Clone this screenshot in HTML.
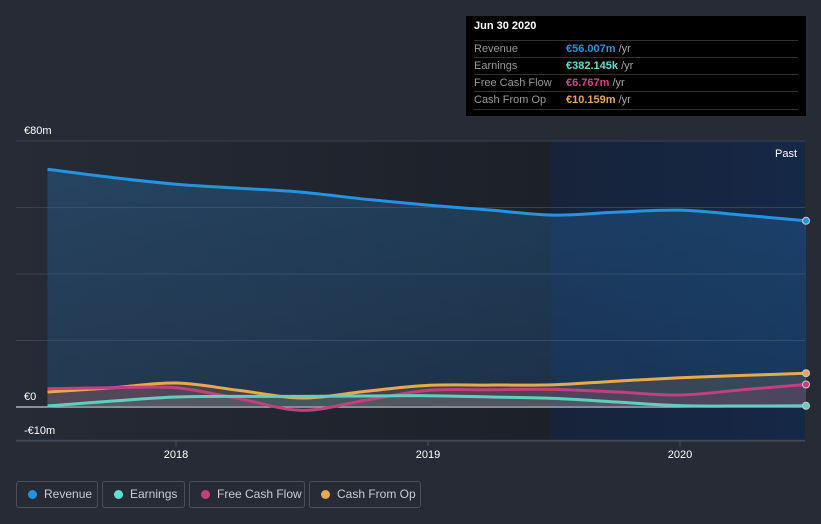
<!DOCTYPE html>
<html><head><meta charset="utf-8"><style>
body{margin:0;background:#262b36;width:821px;height:524px;overflow:hidden;font-family:"Liberation Sans",sans-serif}
.lg{position:absolute;top:481px;height:25px;border:1px solid #4a505c;border-radius:3px;color:#c9ccd2;font-size:12px;line-height:25px;box-sizing:content-box}
.lg i{position:absolute;left:11px;top:8px;width:9px;height:9px;border-radius:50%}
.lg span{position:absolute;left:27px}
.tt{position:absolute;left:466px;top:16px;width:340px;height:100px;background:#000}
.tt div{position:absolute;left:8px;width:324px;font-size:11px;color:#999;border-top:1px solid #333;height:17px;line-height:17px}
.tt b{position:absolute;left:92px;font-weight:bold}
.tt em{font-style:normal;color:#aaa;font-weight:normal}
</style></head><body>
<svg id="c" width="821" height="524" style="position:absolute;left:0;top:0">
<defs>
<linearGradient id="pastL" x1="0" x2="1"><stop offset="0" stop-color="#262b36"/><stop offset="1" stop-color="#1c2029"/></linearGradient>
<linearGradient id="pastR" x1="0" x2="1"><stop offset="0" stop-color="#17233a"/><stop offset="1" stop-color="#152846"/></linearGradient>
<linearGradient id="revF" x1="0" x2="0" y1="0" y2="1"><stop offset="0" stop-color="#2a7fc7" stop-opacity="0.3"/><stop offset="1" stop-color="#1f5d96" stop-opacity="0.28"/></linearGradient>
</defs>
<rect x="16" y="141" width="535" height="300" fill="url(#pastL)"/>
<rect x="551" y="141" width="254" height="300" fill="url(#pastR)"/>
<g id="grid"></g><g id="areas"></g><g id="lines"></g><g id="dots"></g><g id="labels"></g>
</svg>
<div class="tt">
<div style="top:2px;border:none;color:#fff;font-weight:bold;font-size:11px">Jun 30 2020</div>
<div style="top:24px">Revenue<b style="color:#2394df">€56.007m <em>/yr</em></b></div>
<div style="top:41px">Earnings<b style="color:#5fe0cf">€382.145k <em>/yr</em></b></div>
<div style="top:58px">Free Cash Flow<b style="color:#d6468a">€6.767m <em>/yr</em></b></div>
<div style="top:75px;border-bottom:1px solid #333">Cash From Op<b style="color:#e8a94e">€10.159m <em>/yr</em></b></div>
</div>
<div class="lg" style="left:16px;width:80px"><i style="background:#2394df"></i><span>Revenue</span></div>
<div class="lg" style="left:102px;width:81px"><i style="background:#5fe0cf"></i><span>Earnings</span></div>
<div class="lg" style="left:189px;width:114px"><i style="background:#c2407f"></i><span>Free Cash Flow</span></div>
<div class="lg" style="left:309px;width:110px"><i style="background:#e8a94e"></i><span>Cash From Op</span></div>
<script>
const dates=[2017.49,2017.75,2018,2018.25,2018.5,2018.75,2019,2019.25,2019.5,2019.75,2020,2020.25,2020.5];
const revenue=[71.5,69,67,65.8,64.6,62.5,60.7,59.2,57.7,58.6,59.2,57.7,56.0];
const earnings=[0.3,1.8,3,3.2,3.2,3.3,3.4,3.0,2.6,1.5,0.4,0.3,0.38];
const fcf=[5.5,5.8,5.8,2.5,-1,2,5,5.2,5.3,4.5,3.6,5.2,6.77];
const cfo=[4.5,5.8,7.2,5,2.7,4.7,6.5,6.6,6.7,7.8,8.8,9.5,10.16];
const yTicks=[80,60,40,20,0,-10];
const xTicks=[2018,2019,2020];
const xTickLabels=["2018","2019","2020"];
const NS="http://www.w3.org/2000/svg";
const X=v=>176+(v-2018)*252;
const Y=v=>407-v*(266/80);
function mk(t,a,p){const e=document.createElementNS(NS,t);for(const k in a)e.setAttribute(k,a[k]);document.getElementById(p).appendChild(e);return e;}
yTicks.forEach(t=>{
 const g=mk('line',{x1:16,x2:805,y1:Y(t),y2:Y(t),stroke:t===0?'#c8ccd2':'#3a4250','stroke-width':t===0?1.2:1},'grid');
 
 
});
mk('line',{x1:16,x2:805,y1:441,y2:441,stroke:'#4a505c'},'grid');
[[80,"€80m",130],[0,"€0",396],[-10,"-€10m",430]].forEach(([v,s,yy])=>{
 const t=mk('text',{x:24,y:yy+4,fill:'#fff','font-size':11},'labels');t.textContent=s;
 
 
});
xTicks.forEach((v,i)=>{
 mk('line',{x1:X(v),x2:X(v),y1:441,y2:446,stroke:'#4a505c'},'grid');
 const t=mk('text',{x:X(v),y:458,fill:'#fff','font-size':11,'text-anchor':'middle'},'labels');t.textContent=xTickLabels[i];
 
 
});
const pt=mk('text',{x:797,y:157,fill:'#fff','font-size':11,'text-anchor':'end'},'labels');pt.textContent='Past';


function smooth(vals){
 const p=vals.map((v,i)=>[X(dates[i]),Y(v)]);let d=`M${p[0][0]},${p[0][1]}`;
 for(let i=0;i<p.length-1;i++){const p0=p[i-1]||p[i],p1=p[i],p2=p[i+1],p3=p[i+2]||p2;
  d+=` C${p1[0]+(p2[0]-p0[0])/6},${p1[1]+(p2[1]-p0[1])/6} ${p2[0]-(p3[0]-p1[0])/6},${p2[1]-(p3[1]-p1[1])/6} ${p2[0]},${p2[1]}`;}
 return d;}
const series=[[revenue,'#2394df','revenue','url(#revF)'],[cfo,'#e8a94e','cash-from-op','rgba(232,169,78,0.15)'],[fcf,'#c2407f','free-cash-flow','rgba(194,64,127,0.15)'],[earnings,'#5fcfc0','earnings','rgba(95,224,207,0.12)']];
series.forEach(([vals,col,name,fill])=>{
 const d=smooth(vals);
 const a=mk('path',{d:d+` L${X(dates[dates.length-1])},${Y(0)} L${X(dates[0])},${Y(0)} Z`,fill:fill},'areas');
 
 
 const l=mk('path',{d:d,fill:'none',stroke:col,'stroke-width':3},'lines');
 
 
 const c=mk('circle',{cx:X(dates[dates.length-1]),cy:Y(vals[vals.length-1]),r:3.5,fill:col,stroke:'#ccc','stroke-width':1},'dots');
 
 
});
</script>
</body></html>
